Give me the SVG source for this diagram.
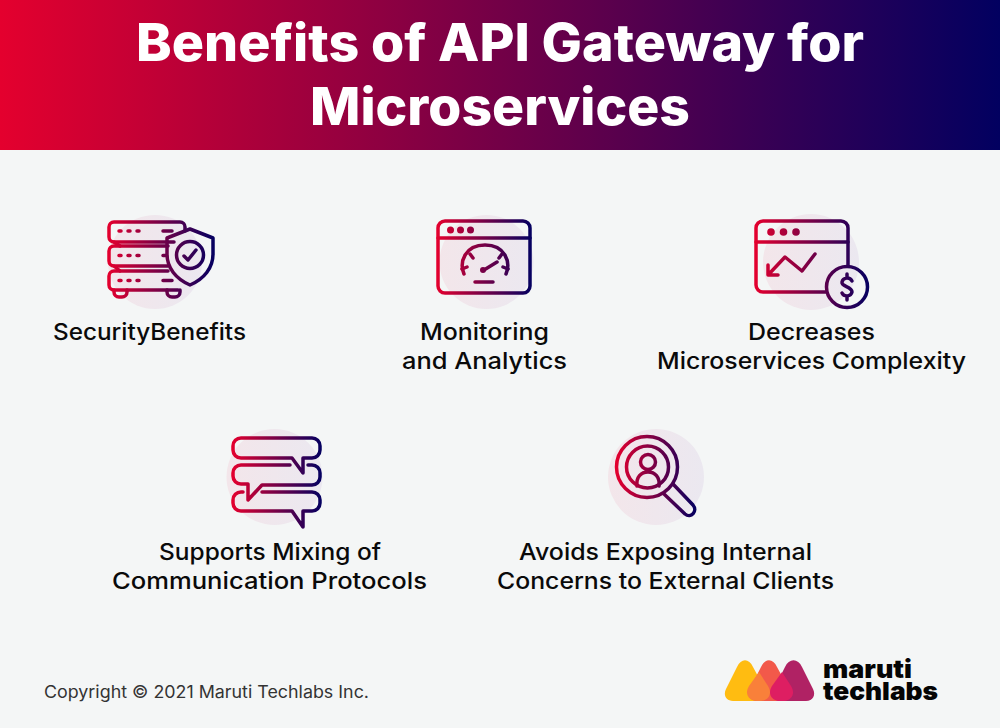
<svg xmlns="http://www.w3.org/2000/svg" width="1000" height="728" viewBox="0 0 1000 728">
<style>
.t{font-family:"Inter","Liberation Sans",sans-serif;font-weight:800;font-size:52px;fill:#fff}
.l{font-family:"Inter","Liberation Sans",sans-serif;font-weight:500;font-size:23px;fill:#0a0a0a}
.c{font-family:"Inter","Liberation Sans",sans-serif;font-weight:400;font-size:17px;fill:#333}
.b{font-family:"Inter","Liberation Sans",sans-serif;font-weight:900;font-size:25px;fill:#050505}
.i{fill:none;stroke-width:3.500;stroke-linecap:round;stroke-linejoin:round}
</style>
<defs>
<linearGradient id="hd" x1="0" x2="1" y1="0" y2="0"><stop offset="0" stop-color="#e4002e"/><stop offset="1" stop-color="#020060"/></linearGradient>
<linearGradient id="bg" x1="0" x2="1" y1="0" y2="0"><stop offset="0" stop-color="#f3e6ea"/><stop offset="1" stop-color="#ebe8f0"/></linearGradient>
<linearGradient id="g1" gradientUnits="userSpaceOnUse" x1="108" x2="214" y1="0" y2="0"><stop offset="0" stop-color="#e4002e"/><stop offset="1" stop-color="#050060"/></linearGradient>
<linearGradient id="g2" gradientUnits="userSpaceOnUse" x1="437" x2="531" y1="0" y2="0"><stop offset="0" stop-color="#e4002e"/><stop offset="1" stop-color="#050060"/></linearGradient>
<linearGradient id="g3" gradientUnits="userSpaceOnUse" x1="755" x2="869" y1="0" y2="0"><stop offset="0" stop-color="#e4002e"/><stop offset="1" stop-color="#050060"/></linearGradient>
<linearGradient id="g4" gradientUnits="userSpaceOnUse" x1="232" x2="321" y1="0" y2="0"><stop offset="0" stop-color="#e4002e"/><stop offset="1" stop-color="#050060"/></linearGradient>
<linearGradient id="g5" gradientUnits="userSpaceOnUse" x1="616" x2="696" y1="0" y2="0"><stop offset="0" stop-color="#e4002e"/><stop offset="1" stop-color="#050060"/></linearGradient>
</defs>
<rect width="1000" height="728" fill="#f4f6f6"/>
<g id="header">
<rect width="1000" height="150" fill="url(#hd)"/>
<text class="t" x="136" y="61" textLength="728" lengthAdjust="spacingAndGlyphs">Benefits of API Gateway for</text>
<text class="t" x="310" y="125" textLength="380" lengthAdjust="spacingAndGlyphs">Microservices</text>
</g>
<g id="node-security">
<circle cx="155" cy="262" r="47" fill="url(#bg)"/>
<g class="i" stroke="url(#g1)">
<path d="M174 242H114a5 5 0 0 1-5-5V227a5 5 0 0 1 5-5H180a5 5 0 0 1 5 5V231"/>
<path d="M168 246H114a5 5 0 0 0-5 5V261a5 5 0 0 0 5 5H168"/>
<path d="M168 271H114a5 5 0 0 0-5 5V285a5 5 0 0 0 5 5H178"/>
<path d="M114 242L120 246M114 266L120 271"/>
<path d="M114 290v2a5 5 0 0 0 5 5h3a5 5 0 0 0 5-5v-2M167 290v2a5 5 0 0 0 5 5h3a5 5 0 0 0 5-5v-2"/>
<path d="M119 231h2M128 231h2M137 231h2M163 231h9M119 255.500h2M128 255.500h2M137 255.500h2M163 255.500h3M119 280.500h2M128 280.500h2M137 280.500h2M163 280.500h9"/>
<path d="M190 229L213 238V254C213 268 204 279 190 285C176 279 167 268 167 254V238Z"/>
<circle cx="190" cy="255" r="13.500"/>
<path d="M184 256L188 260L196 250"/>
</g>
</g>
<g id="node-monitoring">
<circle cx="486.500" cy="262" r="47" fill="url(#bg)"/>
<g class="i" stroke="url(#g2)">
<rect x="438" y="221" width="92" height="72" rx="7"/>
<path d="M438 238H530"/>
<path d="M464 274C459 262 465 245 485 245C505 245 511 262 506 274"/>
<path d="M470 254L473 258M499 258L502 254M462 269L467 267M508 269L503 267M484 270L497 262M475 282H493"/>
</g>
<g fill="url(#g2)"><circle cx="450.500" cy="230" r="3.500"/><circle cx="460.500" cy="230" r="3.500"/><circle cx="470.500" cy="230" r="3.500"/><circle cx="483" cy="270" r="3"/></g>
</g>
<g id="node-complexity">
<circle cx="811" cy="262" r="48" fill="url(#bg)"/>
<g class="i" stroke="url(#g3)">
<path d="M826 292H763a7 7 0 0 1-7-7V228a7 7 0 0 1 7-7H841a7 7 0 0 1 7 7V265"/>
<path d="M756 242H848"/>
<path d="M815 254L802 271L785 257L769 274M768 265V275H778"/>
<circle cx="847" cy="287" r="20.500"/>
<path d="M852 281C850 277 843 277 842 282C841 287 852 286 852 292C851 297 844 297 842 293M847 274V277M847 297V300"/>
</g>
<g fill="url(#g3)"><circle cx="771" cy="232" r="3.800"/><circle cx="783.500" cy="232" r="3.800"/><circle cx="796" cy="232" r="3.800"/></g>
</g>
<g id="node-protocols">
<circle cx="274.500" cy="477" r="48" fill="url(#bg)"/>
<g class="i" stroke="url(#g4)">
<path d="M292 458H241a8 8 0 0 1-8-8V446a8 8 0 0 1 8-8H312a8 8 0 0 1 8 8V450a8 8 0 0 1-8 8H303V473Z"/>
<path d="M290 465H241a8 8 0 0 0-8 8V476a8 8 0 0 0 8 8H248V500L262 485H312a8 8 0 0 0 8-8V473a8 8 0 0 0-8-8H308"/>
<path d="M262 492H312a8 8 0 0 1 8 8V503a8 8 0 0 1-8 8H303V527L292 511H241a8 8 0 0 1-8-8V500a8 8 0 0 1 8-8H243"/>
</g>
</g>
<g id="node-exposing">
<circle cx="656" cy="477" r="48" fill="url(#bg)"/>
<g class="i" stroke="url(#g5)">
<circle cx="647" cy="467" r="30.500"/>
<circle cx="647.500" cy="467" r="21"/>
<circle cx="648" cy="462" r="7.500"/>
<path d="M637 486C636 477 641 472 648 472C655 472 660 477 659 486"/>
<path d="M673 484L693 505C698 511 691 519 685 514L664 494"/>
</g>
</g>
<g id="labels">
<text class="l" x="53" y="340" textLength="193" lengthAdjust="spacingAndGlyphs">SecurityBenefits</text>
<text class="l" x="420" y="340" textLength="129" lengthAdjust="spacingAndGlyphs">Monitoring</text>
<text class="l" x="402" y="369" textLength="165" lengthAdjust="spacingAndGlyphs">and Analytics</text>
<text class="l" x="748" y="340" textLength="127" lengthAdjust="spacingAndGlyphs">Decreases</text>
<text class="l" x="657" y="369" textLength="309" lengthAdjust="spacingAndGlyphs">Microservices Complexity</text>
<text class="l" x="159" y="560" textLength="222" lengthAdjust="spacingAndGlyphs">Supports Mixing of</text>
<text class="l" x="112" y="589" textLength="315" lengthAdjust="spacingAndGlyphs">Communication Protocols</text>
<text class="l" x="519" y="560" textLength="293" lengthAdjust="spacingAndGlyphs">Avoids Exposing Internal</text>
<text class="l" x="497" y="589" textLength="337" lengthAdjust="spacingAndGlyphs">Concerns to External Clients</text>
</g>
<text class="c" x="44" y="698" textLength="325" lengthAdjust="spacingAndGlyphs">Copyright © 2021 Maruti Techlabs Inc.</text>
<g id="logo">
<path d="M733 701C726 701 723 695 726 689L737 667C741 658 749 658 753 667L765 689C768 695 765 701 758 701Z" fill="#ffbc11"/>
<path d="M757 701C750 701 747 695 750 689L761 667C765 658 773 658 777 667L789 689C792 695 789 701 782 701Z" fill="#f2594a"/>
<path d="M781 701C774 701 771 695 774 689L785 667C789 658 798 658 802 667L813 689C816 695 813 701 806 701Z" fill="#b02264"/>
<path d="M759 672L768 686C773 694 768 701 760 701H757C749 701 744 694 749 686Z" fill="#f9803a"/>
<path d="M782 672L791 686C796 694 791 701 783 701H780C772 701 767 694 772 686Z" fill="#de1e62"/>
<text class="b"><tspan x="823" y="678" textLength="89" lengthAdjust="spacingAndGlyphs">maruti</tspan><tspan x="823" y="700" textLength="115" lengthAdjust="spacingAndGlyphs">techlabs</tspan></text>
</g>
</svg>
